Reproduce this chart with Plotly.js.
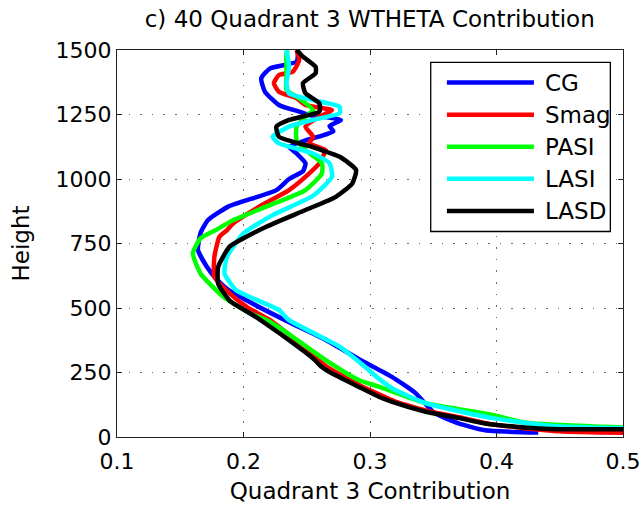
<!DOCTYPE html>
<html>
<head>
<meta charset="utf-8">
<script src="https://cdn.plot.ly/plotly-3.0.1.min.js"></script>
<style>
  html, body { margin: 0; padding: 0; background: #fff; }
  #chart { width: 643px; height: 505px; }
</style>
</head>
<body>
<div id="chart"></div>
<script>
// Quadrant 3 contribution to the w'theta' flux, profiles for five SGS models
const seriesNames = ["CG", "Smag", "PASI", "LASI", "LASD"];
const seriesColors = ["#0000ff", "#ff0000", "#00ff00", "#00ffff", "#000000"];

// CG
const heightCG = [17, 26, 53, 93, 170, 234, 300, 376, 450, 520, 570, 610, 660, 725, 790, 841, 893, 957, 1000, 1030, 1061, 1099, 1125, 1148, 1165, 1185, 1205, 1229, 1248, 1261, 1287, 1338, 1390, 1429, 1455, 1500];
const valueCG = [0.433, 0.391, 0.370, 0.351, 0.336, 0.317, 0.292, 0.265, 0.234, 0.206, 0.188, 0.179, 0.171, 0.164, 0.166, 0.172, 0.188, 0.226, 0.236, 0.247, 0.249, 0.242, 0.236, 0.248, 0.260, 0.271, 0.268, 0.277, 0.252, 0.244, 0.228, 0.217, 0.214, 0.221, 0.242, 0.243];

// Smag
const heightSmag = [10, 22, 50, 74, 98, 137, 170, 195, 240, 272, 311, 380, 453, 500, 557, 621, 699, 776, 802, 828, 900, 957, 1022, 1061, 1090, 1112, 1138, 1164, 1203, 1242, 1267, 1287, 1313, 1338, 1371, 1403, 1416, 1461, 1500];
const valueSmag = [0.60, 0.45, 0.395, 0.373, 0.348, 0.320, 0.305, 0.294, 0.277, 0.266, 0.256, 0.240, 0.221, 0.204, 0.189, 0.177, 0.177, 0.181, 0.187, 0.192, 0.215, 0.236, 0.252, 0.260, 0.263, 0.265, 0.252, 0.255, 0.249, 0.260, 0.270, 0.249, 0.242, 0.228, 0.224, 0.228, 0.239, 0.244, 0.242];

// PASI
const heightPASI = [30, 37, 55, 85, 108, 131, 195, 221, 298, 415, 453, 480, 544, 634, 712, 770, 802, 841, 893, 957, 1022, 1061, 1112, 1151, 1203, 1242, 1267, 1319, 1345, 1410, 1487, 1500];
const valuePASI = [0.70, 0.50, 0.423, 0.397, 0.370, 0.344, 0.307, 0.291, 0.265, 0.231, 0.218, 0.205, 0.184, 0.166, 0.160, 0.166, 0.178, 0.192, 0.218, 0.249, 0.262, 0.262, 0.249, 0.242, 0.242, 0.249, 0.255, 0.242, 0.234, 0.234, 0.234, 0.235];

// LASI
const heightLASI = [28, 34, 45, 74, 131, 190, 234, 272, 350, 453, 492, 570, 634, 699, 789, 860, 935, 1009, 1061, 1099, 1138, 1164, 1203, 1229, 1255, 1280, 1306, 1332, 1371, 1435, 1500];
const valueLASI = [0.70, 0.50, 0.44, 0.396, 0.344, 0.317, 0.305, 0.296, 0.276, 0.236, 0.228, 0.194, 0.185, 0.187, 0.200, 0.223, 0.255, 0.270, 0.268, 0.255, 0.228, 0.223, 0.236, 0.255, 0.276, 0.276, 0.255, 0.236, 0.234, 0.236, 0.234];

// LASD
const heightLASD = [27, 30, 40, 52, 74, 98, 137, 156, 195, 249, 271, 300, 335, 400, 465, 529, 594, 660, 738, 770, 815, 880, 931, 983, 1035, 1086, 1125, 1164, 1203, 1229, 1261, 1293, 1332, 1371, 1410, 1435, 1474, 1500];
const valueLASD = [0.90, 0.45, 0.415, 0.391, 0.370, 0.344, 0.317, 0.307, 0.291, 0.269, 0.262, 0.256, 0.247, 0.229, 0.210, 0.189, 0.180, 0.180, 0.189, 0.200, 0.218, 0.249, 0.273, 0.286, 0.289, 0.276, 0.254, 0.228, 0.226, 0.236, 0.260, 0.260, 0.249, 0.247, 0.257, 0.257, 0.247, 0.242];

const xTicks = [0.1, 0.2, 0.3, 0.4, 0.5];
const xTickText = ["0.1", "0.2", "0.3", "0.4", "0.5"];
const yTicks = [0, 250, 500, 750, 1000, 1250, 1500];
const yTickText = ["0", "250", "500", "750", "1000", "1250", "1500"];

const heights = [heightCG, heightSmag, heightPASI, heightLASI, heightLASD];
const values = [valueCG, valueSmag, valuePASI, valueLASI, valueLASD];

const FONT = "DejaVu Sans, Liberation Sans, Arial, sans-serif";

const traces = seriesNames.map((name, i) => ({
  type: "scatter",
  mode: "lines",
  name: name,
  x: values[i],
  y: heights[i],
  line: { color: seriesColors[i], width: 4.5, shape: "spline", smoothing: 0.5 },
  showlegend: false,
  hoverinfo: "x+y+name"
}));

// Boxed key in the upper right of the axes
const keyTop = 0.916, keyStep = 0.083;
const shapes = [{
  type: "rect", xref: "paper", yref: "paper",
  x0: 0.620, x1: 0.975, y0: 0.531, y1: 0.968,
  line: { color: "#000", width: 1.3 }, fillcolor: "#fff", layer: "above"
}];
const annotations = [];
seriesNames.forEach((name, i) => {
  const yy = keyTop - i * keyStep;
  shapes.push({
    type: "line", xref: "paper", yref: "paper",
    x0: 0.652, x1: 0.824, y0: yy, y1: yy,
    line: { color: seriesColors[i], width: 4.5 }, layer: "above"
  });
  annotations.push({
    xref: "paper", yref: "paper", x: 0.842, y: yy,
    xanchor: "left", yanchor: "middle", showarrow: false,
    text: name, font: { family: FONT, size: 23, color: "#000" }
  });
});

const axisCommon = {
  showline: true, linecolor: "#222", linewidth: 1.2, mirror: "ticks",
  ticks: "inside", ticklen: 5, tickwidth: 1, tickcolor: "#222",
  showgrid: true, gridcolor: "#6a6a6a", gridwidth: 1, griddash: "1.6px,10px",
  zeroline: false,
  tickfont: { family: FONT, size: 22, color: "#000" }
};

const layout = {
  width: 643, height: 505,
  margin: { l: 117, r: 20, t: 50, b: 68 },
  paper_bgcolor: "#fff", plot_bgcolor: "#fff",
  title: {
    text: "c) 40 Quadrant 3 WTHETA Contribution",
    font: { family: FONT, size: 23, color: "#000" },
    x: 0.575, xanchor: "center", y: 0.962, yanchor: "middle", yref: "container"
  },
  xaxis: Object.assign({}, axisCommon, {
    range: [0.1, 0.5], tickvals: xTicks, ticktext: xTickText,
    ticklabelstandoff: 4,
    title: { text: "Quadrant 3 Contribution", font: { family: FONT, size: 23, color: "#000" }, standoff: 10 }
  }),
  yaxis: Object.assign({}, axisCommon, {
    range: [0, 1500], tickvals: yTicks, ticktext: yTickText,
    title: { text: "Height", font: { family: FONT, size: 23, color: "#000" }, standoff: 19 }
  }),
  shapes: shapes,
  annotations: annotations,
  showlegend: false
};

Plotly.newPlot("chart", traces, layout, { displayModeBar: false, staticPlot: true });
</script>
</body>
</html>
